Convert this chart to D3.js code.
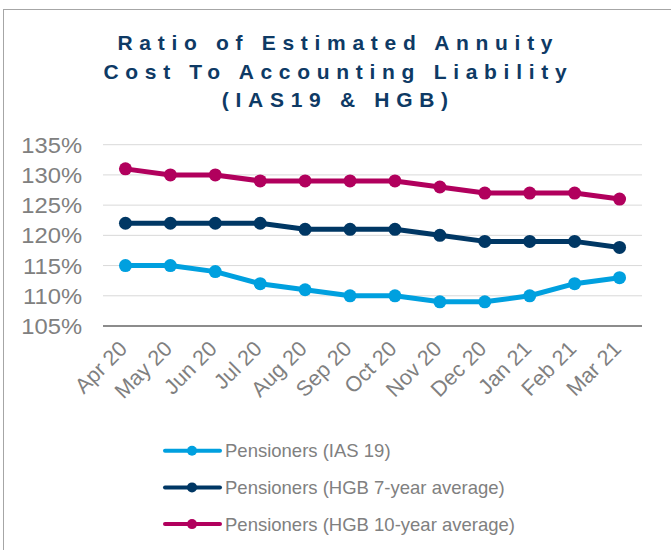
<!DOCTYPE html>
<html>
<head>
<meta charset="utf-8">
<script src="https://cdn.jsdelivr.net/npm/d3@7"></script>
<style>
	html, body { margin: 0; padding: 0; background: #fff; }
	svg { display: block; font-family: Arial, "Liberation Sans", sans-serif; }
</style>
</head>
<body>
<div id="chart"></div>
<script>
// chart data
const months = ['Apr 20', 'May 20', 'Jun 20', 'Jul 20', 'Aug 20', 'Sep 20', 'Oct 20', 'Nov 20', 'Dec 20', 'Jan 21', 'Feb 21', 'Mar 21'];
const ias19 = [115, 115, 114, 112, 111, 110, 110, 109, 109, 110, 112, 113];
const hgb7 = [122, 122, 122, 122, 121, 121, 121, 120, 119, 119, 119, 118];
const hgb10 = [131, 130, 130, 129, 129, 129, 129, 128, 127, 127, 127, 126];
const yTicks = [105, 110, 115, 120, 125, 130, 135];
const seriesNames = ['Pensioners (IAS 19)', 'Pensioners (HGB 7-year average)', 'Pensioners (HGB 10-year average)'];
const titleLines = ['Ratio of Estimated Annuity', 'Cost To Accounting Liability', '(IAS19 & HGB)'];

(function() {
	const width = 671;
	const height = 550;
	const colors = ['#00a0df', '#003764', '#b1005d'];
	const series = [ias19, hgb7, hgb10].map((values, i) => ({
		name: seriesNames[i],
		color: colors[i],
		values: values
	}));

	const svg = d3.select('#chart')
		.append('svg')
		.attr('width', width)
		.attr('height', height);

	// outer frame (runs off the right / bottom edge)
	svg.append('rect')
		.attr('x', 3.5)
		.attr('y', 9.5)
		.attr('width', 800)
		.attr('height', 800)
		.style('fill', '#fff')
		.style('stroke', '#a6a6a6')
		.style('stroke-width', 1);

	// title
	const ls = 6.7;
	svg.append('g')
		.selectAll('text')
		.data(titleLines)
		.enter()
		.append('text')
		.attr('x', 335 + ls / 2)
		.attr('y', (d, i) => 50 + i * 28.5)
		.attr('text-anchor', 'middle')
		.style('font-size', '21px')
		.style('font-weight', 'bold')
		.style('letter-spacing', ls + 'px')
		.style('fill', '#0e3a65')
		.text(d => d);

	// scales
	const x = d3.scalePoint()
		.domain(months)
		.range([103, 642])
		.padding(0.5);

	const y = d3.scaleLinear()
		.domain([105, 135])
		.range([326, 144.7]);

	// gridlines
	svg.append('g')
		.selectAll('line')
		.data(yTicks.slice(1))
		.enter()
		.append('line')
		.attr('x1', 103)
		.attr('x2', 642)
		.attr('y1', d => y(d))
		.attr('y2', d => y(d))
		.style('stroke', '#d9d9d9')
		.style('stroke-width', 1);

	// x axis line
	svg.append('line')
		.attr('x1', 103)
		.attr('x2', 642)
		.attr('y1', y(105))
		.attr('y2', y(105))
		.style('stroke', '#8c8c8c')
		.style('stroke-width', 2);

	// y labels
	svg.append('g')
		.selectAll('text')
		.data(yTicks)
		.enter()
		.append('text')
		.attr('transform', d => `translate(82,${y(d) + 8}) scale(1.08,1)`)
		.attr('text-anchor', 'end')
		.style('font-size', '22px')
		.style('fill', '#808080')
		.text(d => d + '%');

	// x labels, rotated
	svg.append('g')
		.selectAll('text')
		.data(months)
		.enter()
		.append('text')
		.attr('transform', d => `translate(${x(d) + 3},${y(105) + 24}) rotate(-45)`)
		.attr('text-anchor', 'end')
		.style('font-size', '21.5px')
		.style('fill', '#808080')
		.text(d => d);

	// lines and markers
	const line = d3.line()
		.x((d, i) => x(months[i]))
		.y(d => y(d));

	const g = svg.append('g');
	series.forEach(s => {
		g.append('path')
			.attr('d', line(s.values))
			.style('fill', 'none')
			.style('stroke', s.color)
			.style('stroke-width', 5)
			.style('stroke-linejoin', 'round');
		g.selectAll(null)
			.data(s.values)
			.enter()
			.append('circle')
			.attr('cx', (d, i) => x(months[i]))
			.attr('cy', d => y(d))
			.attr('r', 6.5)
			.style('fill', s.color);
	});

	// legend
	const legend = svg.append('g')
		.selectAll('g')
		.data(series)
		.enter()
		.append('g')
		.attr('transform', (d, i) => `translate(165,${450.7 + i * 36.7})`);

	legend.append('line')
		.attr('x1', 0)
		.attr('x2', 55)
		.style('stroke', d => d.color)
		.style('stroke-width', 4)
		.style('stroke-linecap', 'round');

	legend.append('circle')
		.attr('cx', 27)
		.attr('r', 5)
		.style('fill', d => d.color);

	legend.append('text')
		.attr('x', 60)
		.attr('y', 6.5)
		.style('font-size', '18.5px')
		.style('fill', '#808080')
		.text(d => d.name);
}());
</script>
</body>
</html>
